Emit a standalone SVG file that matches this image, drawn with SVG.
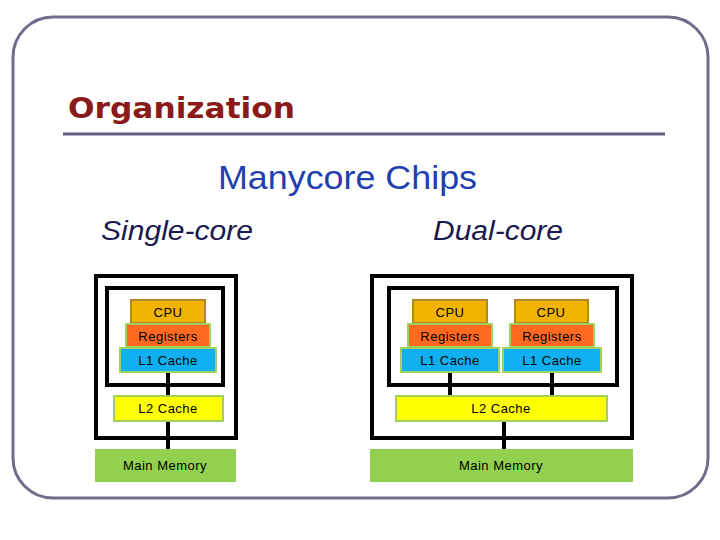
<svg xmlns="http://www.w3.org/2000/svg" width="720" height="540" viewBox="0 0 720 540">
<style>
.box{fill:none;stroke:#000;stroke-width:4}
.cpu{fill:#f0b400;stroke:#b08a20;stroke-width:2}
.reg{fill:#ff6a20;stroke:#9fd060;stroke-width:2}
.l1{fill:#10b0f0;stroke:#9fd060;stroke-width:2}
.l2{fill:#ffff00;stroke:#9fd060;stroke-width:2}
.mem{fill:#92d050}
.t{font-family:"Liberation Sans",Arial,sans-serif;font-size:13px;text-anchor:middle;fill:#000;letter-spacing:0.5px}
.wire{stroke:#000;stroke-width:4}
</style>
<rect x="13" y="17" width="695" height="481" rx="40" fill="#fff" stroke="#6e6e8c" stroke-width="3"/>
<text x="68" y="118" font-family="DejaVu Sans,Verdana,sans-serif" font-weight="bold" font-size="28" fill="#8b1a1a" textLength="227" lengthAdjust="spacingAndGlyphs">Organization</text>
<line x1="63" y1="134" x2="665" y2="134" stroke="#5e5e80" stroke-width="3"/>
<text x="218" y="189" font-family="Liberation Sans,Arial,sans-serif" font-size="34" fill="#1f3fb0" textLength="259" lengthAdjust="spacingAndGlyphs">Manycore Chips</text>
<text x="101" y="240" font-family="Liberation Sans,Arial,sans-serif" font-style="italic" font-size="27" fill="#1a1a50" textLength="152" lengthAdjust="spacingAndGlyphs">Single-core</text>
<text x="433" y="240" font-family="Liberation Sans,Arial,sans-serif" font-style="italic" font-size="27" fill="#1a1a50" textLength="130" lengthAdjust="spacingAndGlyphs">Dual-core</text>
<g id="connectors">
<line class="wire" x1="168" y1="372" x2="168" y2="396"/>
<line class="wire" x1="168" y1="421" x2="168" y2="449"/>
<line class="wire" x1="450" y1="372" x2="450" y2="396"/>
<line class="wire" x1="552" y1="372" x2="552" y2="396"/>
<line class="wire" x1="504" y1="421" x2="504" y2="449"/>
</g>
<g id="single">
<rect class="box" x="96" y="276" width="140" height="162"/>
<rect class="box" x="107" y="288" width="116" height="97"/>
<g id="s-cpu"><rect class="cpu" x="131" y="300" width="74" height="23"/><text class="t" x="168" y="317">CPU</text></g>
<g id="s-reg"><rect class="reg" x="126" y="324" width="84" height="23"/><text class="t" x="168" y="341">Registers</text></g>
<g id="s-l1"><rect class="l1" x="120" y="348" width="96" height="24"/><text class="t" x="168" y="365">L1 Cache</text></g>
<g id="s-l2"><rect class="l2" x="114" y="396" width="109" height="25"/><text class="t" x="168" y="413">L2 Cache</text></g>
<g id="s-mem"><rect class="mem" x="95" y="449" width="141" height="33"/><text class="t" x="165" y="470">Main Memory</text></g>
</g>
<g id="dual">
<rect class="box" x="372" y="276" width="260" height="162"/>
<rect class="box" x="389" y="288" width="228" height="97"/>
<g id="d-cpu1"><rect class="cpu" x="413" y="300" width="74" height="23"/><text class="t" x="450" y="317">CPU</text></g>
<g id="d-reg1"><rect class="reg" x="408" y="324" width="84" height="23"/><text class="t" x="450" y="341">Registers</text></g>
<g id="d-l11"><rect class="l1" x="401" y="348" width="98" height="24"/><text class="t" x="450" y="365">L1 Cache</text></g>
<g id="d-cpu2"><rect class="cpu" x="515" y="300" width="73" height="23"/><text class="t" x="551" y="317">CPU</text></g>
<g id="d-reg2"><rect class="reg" x="510" y="324" width="84" height="23"/><text class="t" x="552" y="341">Registers</text></g>
<g id="d-l12"><rect class="l1" x="503" y="348" width="98" height="24"/><text class="t" x="552" y="365">L1 Cache</text></g>
<g id="d-l2"><rect class="l2" x="396" y="396" width="211" height="25"/><text class="t" x="501" y="413">L2 Cache</text></g>
<g id="d-mem"><rect class="mem" x="370" y="449" width="263" height="33"/><text class="t" x="501" y="470">Main Memory</text></g>
</g>
</svg>
